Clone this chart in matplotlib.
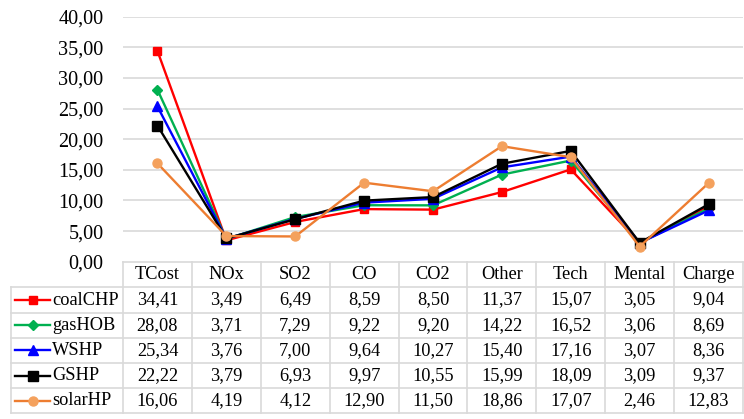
import matplotlib
matplotlib.use("Agg")
import matplotlib.pyplot as plt
from matplotlib.lines import Line2D

categories = ["TCost", "NOx", "SO2", "CO", "CO2", "Other", "Tech", "Mental", "Charge"]
series_names = ["coalCHP", "gasHOB", "WSHP", "GSHP", "solarHP"]
coalCHP = [34.41, 3.49, 6.49, 8.59, 8.50, 11.37, 15.07, 3.05, 9.04]
gasHOB = [28.08, 3.71, 7.29, 9.22, 9.20, 14.22, 16.52, 3.06, 8.69]
WSHP = [25.34, 3.76, 7.00, 9.64, 10.27, 15.40, 17.16, 3.07, 8.36]
GSHP = [22.22, 3.79, 6.93, 9.97, 10.55, 15.99, 18.09, 3.09, 9.37]
solarHP = [16.06, 4.19, 4.12, 12.90, 11.50, 18.86, 17.07, 2.46, 12.83]
y_ticks = [0, 5, 10, 15, 20, 25, 30, 35, 40]

all_series = [coalCHP, gasHOB, WSHP, GSHP, solarHP]
styles = [
    dict(color="#ff0000", marker="s", ms=6.0, mfc="#ff0000", mec="#ff0000"),
    dict(color="#00b050", marker="D", ms=4.6, mfc="#00b050", mec="#00b050"),
    dict(color="#0000ff", marker="^", ms=6.5, mfc="#0000ff", mec="#0000ff"),
    dict(color="#000000", marker="s", ms=7.2, mfc="#000000", mec="#000000"),
    dict(color="#ed7d31", marker="o", ms=6.5, mfc="#f4a15d", mec="#f4a15d"),
]

W, H = 744, 419
plt.rcParams["font.family"] = ["Liberation Serif", "DejaVu Serif"]
fig = plt.figure(figsize=(W / 100, H / 100), dpi=100)

def fx(px):
    return px / W

def fy(py):
    return 1 - py / H

grid_col = "#d9d9d9"
FS_AXIS = 14.6
FS_TABLE = 13.2

# Line chart area
x0, x1 = 123, 743
y_top, y_bot = 16.7, 261.7
ax = fig.add_axes([fx(x0), fy(y_bot), fx(x1) - fx(x0), fy(y_top) - fy(y_bot)])
n = len(categories)
xs = [i + 0.5 for i in range(n)]
for vals, st in zip(all_series, styles):
    ax.plot(xs, vals, lw=1.7, **st)
ax.set_xlim(0, n)
ax.set_ylim(0, 40)
for t in y_ticks[1:]:
    ax.axhline(t, color=grid_col, lw=1.2, zorder=0)
for s in ax.spines.values():
    s.set_visible(False)
ax.set_xticks([])
ax.set_yticks(y_ticks)
ax.set_yticklabels([f"{t:.2f}".replace(".", ",") for t in y_ticks], fontsize=FS_AXIS)
ax.tick_params(axis="y", length=0, pad=14)

# Data table
tab = fig.add_axes([0, 0, 1, 1])
tab.set_xlim(0, W)
tab.set_ylim(H, 0)
tab.axis("off")

row_edges = [262.3, 287.3, 312.7, 337.7, 363.0, 388.3, 413.3]
col_edges = [x0 + (x1 - x0) * i / n for i in range(n + 1)]
left_x = 11

# horizontal borders
tab.plot([x0, x1], [row_edges[0]] * 2, color=grid_col, lw=1.2)
for yv in row_edges[1:]:
    tab.plot([left_x, x1], [yv, yv], color=grid_col, lw=1.2)
# vertical borders
tab.plot([left_x, left_x], [row_edges[1], row_edges[-1]], color=grid_col, lw=1.2)
for xv in col_edges:
    tab.plot([xv, xv], [row_edges[0], row_edges[-1]], color=grid_col, lw=1.2)

for j, c in enumerate(categories):
    cx = (col_edges[j] + col_edges[j + 1]) / 2
    cy = (row_edges[0] + row_edges[1]) / 2
    tab.text(cx, cy, c, ha="center", va="center", fontsize=FS_TABLE)

for i, (name, vals, st) in enumerate(zip(series_names, all_series, styles)):
    cy = (row_edges[i + 1] + row_edges[i + 2]) / 2
    tab.add_line(Line2D([15, 50], [cy, cy], lw=1.7, color=st["color"]))
    tab.add_line(Line2D([32.5], [cy], marker=st["marker"], ms=st["ms"],
                        mfc=st["mfc"], mec=st["mec"], ls="none"))
    tab.text(52, cy, name, ha="left", va="center", fontsize=FS_TABLE)
    for j, v in enumerate(vals):
        cx = (col_edges[j] + col_edges[j + 1]) / 2
        tab.text(cx, cy, f"{v:.2f}".replace(".", ","), ha="center", va="center", fontsize=FS_TABLE)

fig.savefig("out.png", dpi=100)
